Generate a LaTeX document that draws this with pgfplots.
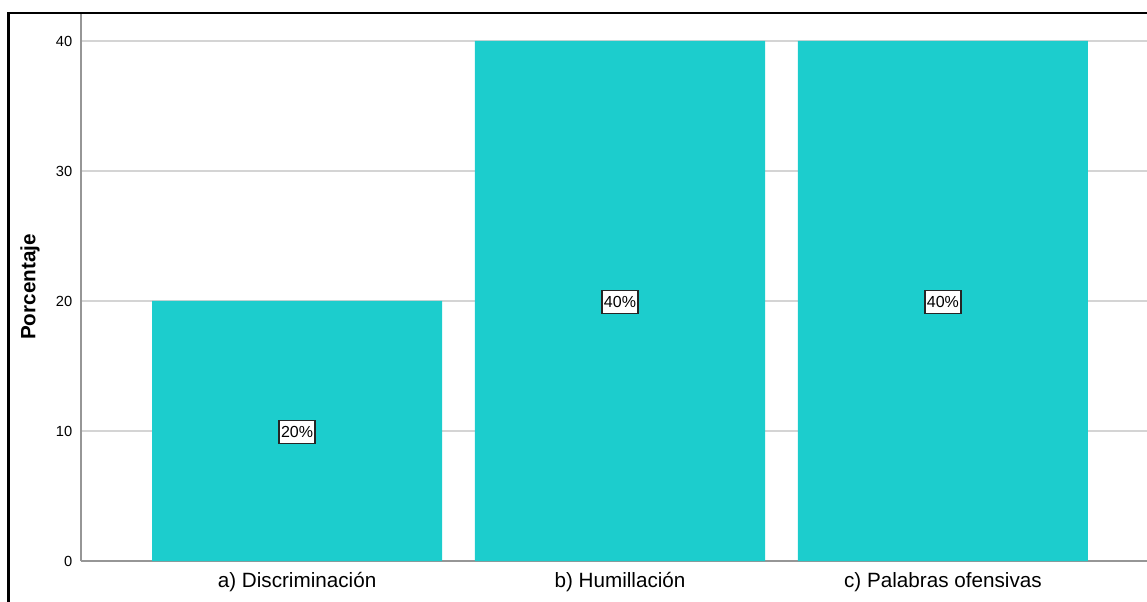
\documentclass[border=0pt]{standalone}
\usepackage{pgfplots}
\pgfplotsset{compat=1.18}
\usepackage{fontspec}
\setmainfont{Liberation Sans}
\definecolor{barc}{RGB}{28,205,205}
\definecolor{gridc}{RGB}{212,212,212}
\definecolor{axisc}{RGB}{150,150,150}
\begin{document}
\begin{tikzpicture}
\useasboundingbox (0,0) rectangle (860.25pt,450.75pt);
\begin{axis}[
  at={(60.75pt,30pt)}, anchor=south west,
  scale only axis, width=808.5pt, height=411pt,
  xmin=-0.669, xmax=2.669, ymin=0, ymax=42.15,
  axis x line*=bottom, axis y line*=left,
  axis line style={draw=axisc, line width=0.9pt},
  ytick={0,10,20,30,40},
  xtick={0,1,2},
  xticklabels={a) Discriminación, b) Humillación, c) Palabras ofensivas},
  major tick length=0pt,
  ymajorgrids, grid style={draw=gridc, line width=1.2pt},
  /pgf/number format/assume math mode=true,
  yticklabel style={font=\fontsize{11}{12}\selectfont, xshift=-3pt},
  xticklabel style={font=\fontsize{15.5}{17}\selectfont, yshift=-5pt},
  ylabel={\textbf{Porcentaje}},
  every axis y label/.style={at={(axis description cs:-0.0473,0.5)}, rotate=90, anchor=center, font=\fontsize{15.5}{17}\selectfont},
  clip=false,
]
\addplot[ybar, bar width=0.898, fill=barc, draw=none] coordinates {(0,20) (1,40) (2,40)};
\addplot[draw=none, mark=none, nodes near coords, point meta=explicit symbolic,
  every node near coord/.style={anchor=center, draw=black!85, line width=0.9pt, fill=white, inner xsep=1.5pt, inner ysep=1pt, minimum height=17pt, yshift=-0.7pt, font=\fontsize{12}{13}\selectfont}]
  coordinates {(0,10) [20\%] (1,20) [40\%] (2,20) [40\%]};
\end{axis}
\draw[black, line width=1.6pt] (6.375pt,-10pt) -- (6.375pt,441pt) -- (880pt,441pt);
\end{tikzpicture}
\end{document}
